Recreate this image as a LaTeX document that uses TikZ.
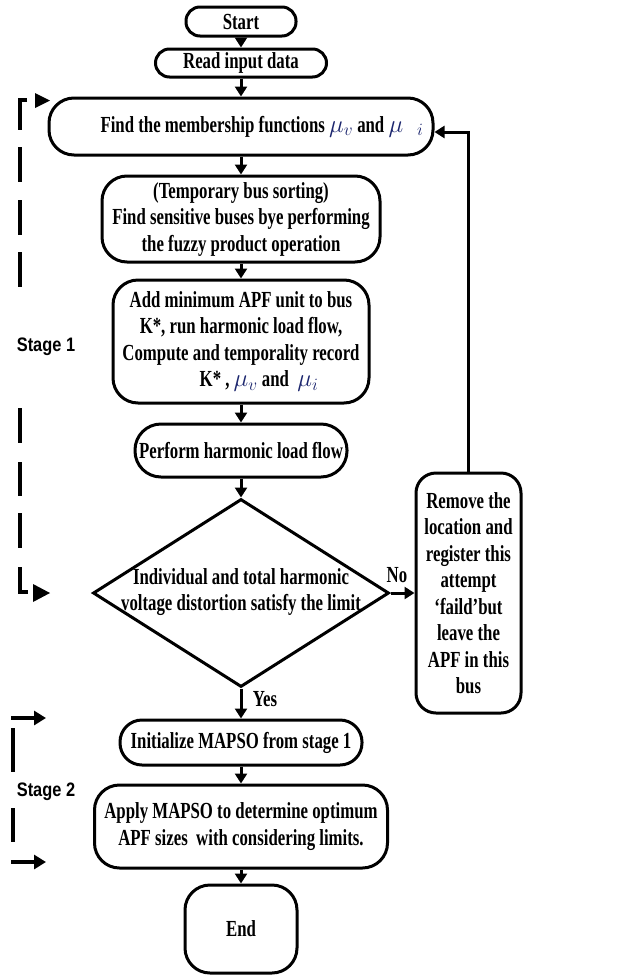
\documentclass[tikz,border=0pt]{standalone}
\usepackage{fontspec}
\setmainfont{Liberation Serif}[FakeStretch=0.73]
\newfontfamily\stagefont{Liberation Sans}[FakeStretch=0.84]
\usetikzlibrary{shapes.geometric,arrows.meta}
\definecolor{mucol}{RGB}{28,38,110}
\newcommand{\bmu}{{\color{mucol}\mu}}
\begin{document}
\begin{tikzpicture}[x=1pt,y=-1pt,
  txt/.style={font=\bfseries\fontsize{23}{26.5}\selectfont, align=center, inner sep=0pt},
  box/.style={draw, line width=3pt, rounded corners=#1, align=center, inner sep=2pt,
              font=\bfseries\fontsize{23}{26.5}\selectfont},
  box/.default=25pt,
  arr/.style={line width=3pt, -{Triangle[length=10pt,width=12pt]}},
  brk/.style={line width=4pt},
  stagelbl/.style={font=\stagefont\bfseries\fontsize{19.5}{22}\selectfont, inner sep=1pt},
  lbl/.style={font=\bfseries\fontsize{23}{26.5}\selectfont, inner sep=0pt}
]
\fill[white] (0,0) rectangle (624,975);
\useasboundingbox (0,0) rectangle (624,975);

% main column
\node[box=14pt, minimum width=110pt, minimum height=29pt] (start) at (241,21.5) {Start};
\node[box=14pt, minimum width=171pt, minimum height=28pt] (read) at (241,63) {Read input data};
\node[box, minimum width=384pt, minimum height=57pt] (find) at (241,126.5)
  {\hspace*{42pt}Find the membership functions $\bmu_{\color{mucol}v}$ and $\bmu_{\hspace{14pt}\color{mucol}i}$};
\node[box, minimum width=278pt, minimum height=86pt] (temp) at (241,219)
  {(Temporary bus sorting)\\Find sensitive buses bye performing\\the fuzzy product operation};
\node[box, minimum width=256pt, minimum height=123pt] (add) at (241,341.5)
  {Add minimum APF unit to bus\\K*, run harmonic load flow,\\Compute and temporality record\\
   \hspace*{36pt}K* , $\bmu_{\color{mucol}v}$ and\ \ $\bmu_{\color{mucol}i}$};
\node[box=26pt, minimum width=212pt, minimum height=53pt] (perf) at (241,450.5)
  {Perform harmonic load flow};
\node[draw, diamond, line width=3pt, minimum width=296pt, minimum height=188pt, inner sep=0pt]
  (dec) at (241,593) {};
\node[txt] (dect) at (241,592) {Individual and total harmonic\\voltage distortion satisfy the limit};
\node[box=20pt, minimum width=105pt, minimum height=240pt] (rem) at (468.5,593)
  {Remove the\\location and\\register this\\attempt\\‘faild’but\\leave the\\APF in this\\bus};
\node[box=22pt, minimum width=242pt, minimum height=45pt] (init) at (241,742.5)
  {Initialize MAPSO from stage 1};
\node[box, minimum width=293pt, minimum height=83pt] (apply) at (241,826.5)
  {Apply MAPSO to determine optimum\\APF sizes\ \ with considering limits.};
\node[box, minimum width=112pt, minimum height=88pt] (end) at (241,929) {End};

% connectors
\draw[arr] (start) -- (read);
\draw[arr] (read) -- (find);
\draw[arr] (find) -- (temp);
\draw[arr] (temp) -- (add);
\draw[arr] (add) -- (perf);
\draw[arr] (perf) -- (dec.north);
\draw[arr] (dec.south) -- (init);
\draw[arr] (init) -- (apply);
\draw[arr] (apply) -- (end);
\draw[arr] (dec.east) -- (rem.west);
\draw[arr] (rem.north) |- ([yshift=-5.5pt]find.east);
\node[lbl] (no) at (397,575) {No};
\node[lbl] (yes) at (265,699) {Yes};

% stage 1 bracket
\coordinate (s1t) at (20,100);
\coordinate (s1b) at (20,592);
\draw[brk] (27,100) -- (s1t) -- (20,130);
\foreach \a/\b in {147/182,200/235,252/287,408/443,462/496,513/548}
  \draw[brk] (20,\a) -- (20,\b);
\draw[brk] (20,567) -- (s1b) -- (28,592);
\fill (35,93) -- (50,100.5) -- (35,108) -- cycle;
\fill (33,584) -- (50,593) -- (33,602) -- cycle;
\node[stagelbl] (st1) at (46,347) {Stage 1};

% stage 2 bracket
\coordinate (s2a) at (11,718);
\coordinate (s2b) at (46,718);
\coordinate (s2c) at (11,862);
\coordinate (s2d) at (46,862);
\draw[brk, -{Triangle[length=12pt,width=14pt]}] (s2a) -- (s2b);
\draw[brk, -{Triangle[length=12pt,width=14pt]}] (s2c) -- (s2d);
\draw[brk] (13,728) -- (13,772);
\draw[brk] (13,808) -- (13,842);
\node[stagelbl] (st2) at (46,792) {Stage 2};
\end{tikzpicture}
\end{document}
